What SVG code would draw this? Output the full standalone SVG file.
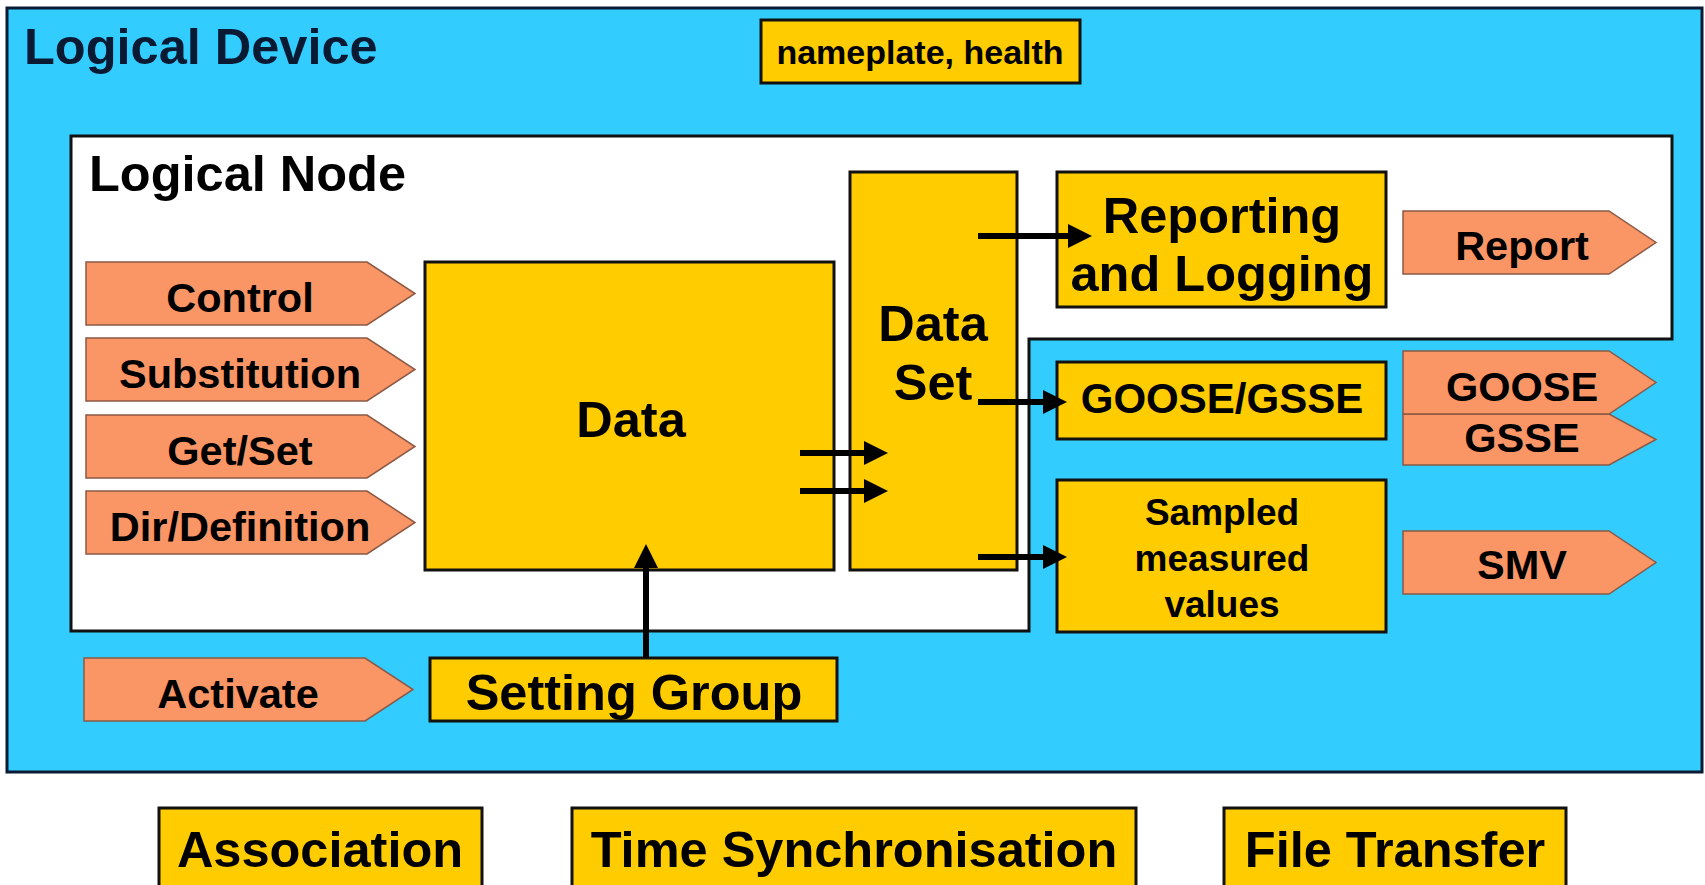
<svg xmlns="http://www.w3.org/2000/svg" width="1705" height="885" viewBox="0 0 1705 885">
<style>
text{font-family:"Liberation Sans",Arial,Helvetica,sans-serif;font-weight:bold;fill:#000;text-anchor:middle}
.lft{text-anchor:start}
.xl{font-size:50.5px}
.md{font-size:41.5px}
.gg{font-size:42px}
.sm{font-size:37px}
.np{font-size:34px}
.box{fill:#FFCC00;stroke:#111;stroke-width:3}
.tag{fill:#FA9566;stroke:#8A5A45;stroke-width:1.5}
.conn{stroke:#000;stroke-width:6;fill:none;marker-end:url(#ah)}
</style>
<defs>
<marker id="ah" markerUnits="userSpaceOnUse" markerWidth="26" markerHeight="26" refX="2" refY="12" orient="auto">
<path d="M0,0 L24,12 L0,24 Z" fill="#000"/>
</marker>
</defs>
<rect x="0" y="0" width="1705" height="885" fill="#fff"/>
<g id="logical-device">
<rect x="7" y="8" width="1695" height="764" fill="#33CCFF" stroke="#0A1A33" stroke-width="3"/>
<text class="lft xl" x="24" y="64" style="fill:#0A1A33">Logical Device</text>
</g>
<g id="nameplate">
<rect class="box" x="761" y="20" width="319" height="63"/>
<text class="np" x="920" y="64">nameplate, health</text>
</g>
<g id="logical-node">
<path d="M71,136 H1672 V339 H1029 V631 H71 Z" fill="#fff" stroke="#111" stroke-width="3"/>
<text class="lft xl" x="89" y="191">Logical Node</text>
</g>
<g id="control"><path class="tag" d="M86,262 H367 L415,293.5 L367,325 H86 Z"/><text class="md" x="240" y="312">Control</text></g>
<g id="substitution"><path class="tag" d="M86,338 H367 L415,369.5 L367,401 H86 Z"/><text class="md" x="240" y="388">Substitution</text></g>
<g id="getset"><path class="tag" d="M86,415 H367 L415,446.5 L367,478 H86 Z"/><text class="md" x="240" y="465">Get/Set</text></g>
<g id="dirdef"><path class="tag" d="M86,491 H367 L415,522.5 L367,554 H86 Z"/><text class="md" x="240" y="541">Dir/Definition</text></g>
<g id="data">
<rect class="box" x="425" y="262" width="409" height="308"/>
<text class="xl" x="631" y="437">Data</text>
</g>
<g id="dataset">
<rect class="box" x="850" y="172" width="167" height="398"/>
<text class="xl" x="933" y="341">Data</text>
<text class="xl" x="933" y="400">Set</text>
</g>
<g id="reporting">
<rect class="box" x="1057" y="172" width="329" height="135"/>
<text class="xl" x="1222" y="233">Reporting</text>
<text class="xl" x="1222" y="291">and Logging</text>
</g>
<g id="report"><path class="tag" d="M1403,211 H1609 L1656,242.5 L1609,274 H1403 Z"/><text class="md" x="1522" y="260">Report</text></g>
<g id="goosegsse">
<rect class="box" x="1057" y="362" width="329" height="77"/>
<text class="gg" x="1222" y="413">GOOSE/GSSE</text>
</g>
<g id="gsse"><path class="tag" d="M1403,414 H1609 L1656,439.5 L1609,465 H1403 Z"/><text class="md" x="1522" y="452">GSSE</text></g>
<g id="goose"><path class="tag" d="M1403,351 H1609 L1656,382.5 L1609,414 H1403 Z"/><text class="md" x="1522" y="401">GOOSE</text></g>
<g id="smv-box">
<rect class="box" x="1057" y="480" width="329" height="152"/>
<text class="sm" x="1222" y="525">Sampled</text>
<text class="sm" x="1222" y="571">measured</text>
<text class="sm" x="1222" y="617">values</text>
</g>
<g id="smv"><path class="tag" d="M1403,531 H1609 L1656,562.5 L1609,594 H1403 Z"/><text class="md" x="1522" y="579">SMV</text></g>
<g id="activate"><path class="tag" d="M84,658 H365 L413,689.5 L365,721 H84 Z"/><text class="md" x="238" y="708">Activate</text></g>
<g id="setting-group">
<rect class="box" x="430" y="658" width="407" height="63"/>
<text class="xl" x="634" y="710">Setting Group</text>
</g>
<g id="association">
<rect class="box" x="159" y="808" width="323" height="100"/>
<text class="xl" x="320" y="867">Association</text>
</g>
<g id="time-sync">
<rect class="box" x="572" y="808" width="564" height="100"/>
<text class="xl" x="854" y="867">Time Synchronisation</text>
</g>
<g id="file-transfer">
<rect class="box" x="1224" y="808" width="342" height="100"/>
<text class="xl" x="1395" y="867">File Transfer</text>
</g>
<g id="connectors">
<line class="conn" x1="978" y1="236" x2="1070" y2="236"/>
<line class="conn" x1="978" y1="402" x2="1045" y2="402"/>
<line class="conn" x1="978" y1="557" x2="1045" y2="557"/>
<line class="conn" x1="800" y1="453" x2="866" y2="453"/>
<line class="conn" x1="800" y1="491" x2="866" y2="491"/>
<line class="conn" x1="646" y1="658" x2="646" y2="566"/>
</g>
</svg>
